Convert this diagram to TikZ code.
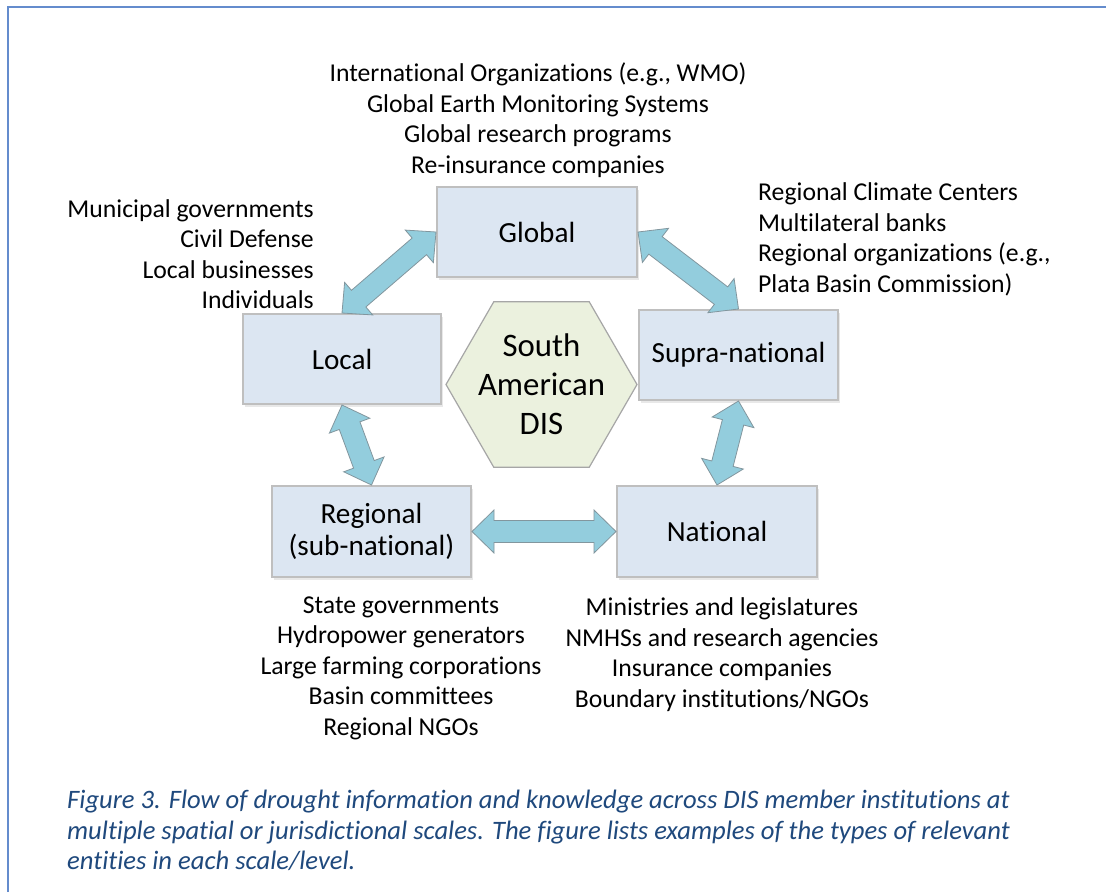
\documentclass[tikz,border=0pt]{standalone}
\usepackage{fontspec}
\setmainfont{Carlito}[Ligatures={NoCommon}]
\usetikzlibrary{calc,shapes.geometric,shadows}

\definecolor{boxfill}{RGB}{220,230,242}
\definecolor{boxline}{RGB}{191,191,191}
\definecolor{hexfill}{RGB}{235,241,222}
\definecolor{hexline}{RGB}{166,166,166}
\definecolor{arrowfill}{RGB}{147,205,221}
\definecolor{arrowline}{RGB}{130,150,158}
\definecolor{framecol}{RGB}{100,140,205}
\definecolor{captioncol}{RGB}{31,73,125}

% double-headed block arrow between two anchors
\newcommand\blockarrow[2]{%
  \draw[arrowshape]
    (#1) -- ($(#1)!\ahl!(#2)!\ahw!90:(#2)$) -- ($(#1)!\ahl!(#2)!\ash!90:(#2)$)
    -- ($(#2)!\ahl!(#1)!\ash!-90:(#1)$) -- ($(#2)!\ahl!(#1)!\ahw!-90:(#1)$)
    -- (#2)
    -- ($(#2)!\ahl!(#1)!\ahw!90:(#1)$) -- ($(#2)!\ahl!(#1)!\ash!90:(#1)$)
    -- ($(#1)!\ahl!(#2)!\ash!-90:(#2)$) -- ($(#1)!\ahl!(#2)!\ahw!-90:(#2)$)
    -- cycle;}
\newcommand\ahl{22pt}
\newcommand\ahw{21.5pt}
\newcommand\ash{11pt}

\begin{document}
\begin{tikzpicture}[x=1pt,y=-1pt,
  scalebox/.style={draw=boxline, line width=2pt, fill=boxfill,
    minimum width=199pt, minimum height=90pt, inner sep=0pt, align=center,
    font=\fontsize{29.2}{32.5}\selectfont,
    drop shadow={opacity=0.18, shadow xshift=2pt, shadow yshift=-2.5pt}},
  hexshape/.style={regular polygon, regular polygon sides=6, draw=hexline,
    line width=1.2pt, fill=hexfill, minimum size=191pt, inner sep=0pt},
  listtext/.style={font=\fontsize{25.7}{30.5}\selectfont, inner sep=0pt},
  arrowshape/.style={fill=arrowfill, draw=arrowline, line width=0.8pt, line join=miter},
  captiontext/.style={font=\fontsize{26.6}{30.5}\selectfont\itshape, text=captioncol,
    align=left, inner sep=0pt}]

\useasboundingbox (0,0) rectangle (1106,892);
\fill[white] (0,0) rectangle (1106,892);

% page frame
\coordinate (fbl) at (8,892);
\coordinate (ftl) at (8,7);
\coordinate (ftr) at (1106,7);
\draw[framecol, line width=1.6pt] (fbl) -- (ftl) -- (ftr);

% scale boxes
\node[scalebox, minimum width=200pt] (global)   at (537,232)   {Global};
\node[scalebox, minimum width=198pt] (local)    at (342,359)   {Local};
\node[scalebox] (supra)    at (738.5,355) {Supra-national};
\node[scalebox, minimum height=91pt] (regional) at (371.5,531.5) {Regional\\(sub-national)};
\node[scalebox, minimum width=200pt, minimum height=91pt] (national) at (717,531.5) {National};

% central hexagon
\node[hexshape] (dis) at (541.5,384.5) {};
\node[font=\fontsize{32.8}{39}\selectfont, align=center, inner sep=0pt] (distext) at (541.5,384) {South\\American\\DIS};

% information flows
\blockarrow{local.north}{global.west}
\blockarrow{global.east}{supra.north}
\blockarrow{local.south}{regional.north}
\blockarrow{supra.south}{national.north}
\blockarrow{regional.east}{national.west}

% example entities per scale
\node[listtext, align=center] (globallist) at (538,120)
  {International Organizations (e.g., WMO)\\Global Earth Monitoring Systems\\Global research programs\\Re-insurance companies};
\node[listtext, align=right, anchor=east] (locallist) at (314,254)
  {Municipal governments\\Civil Defense\\Local businesses\\Individuals};
\node[listtext, align=left, anchor=west] (supralist) at (758,239.5)
  {Regional Climate Centers\\Multilateral banks\\Regional organizations (e.g.,\\Plata Basin Commission)};
\node[listtext, align=center] (regionallist) at (401,668)
  {State governments\\Hydropower generators\\Large farming corporations\\Basin committees\\Regional NGOs};
\node[listtext, align=center] (nationallist) at (722,654.5)
  {Ministries and legislatures\\NMHSs and research agencies\\Insurance companies\\Boundary institutions/NGOs};

% caption
\node[captiontext, anchor=west] (caption) at (67,830.5)
  {Figure 3. Flow of drought information and knowledge across DIS member institutions at\\
   multiple spatial or jurisdictional scales. The figure lists examples of the types of relevant\\
   entities in each scale/level.};
\end{tikzpicture}
\end{document}
